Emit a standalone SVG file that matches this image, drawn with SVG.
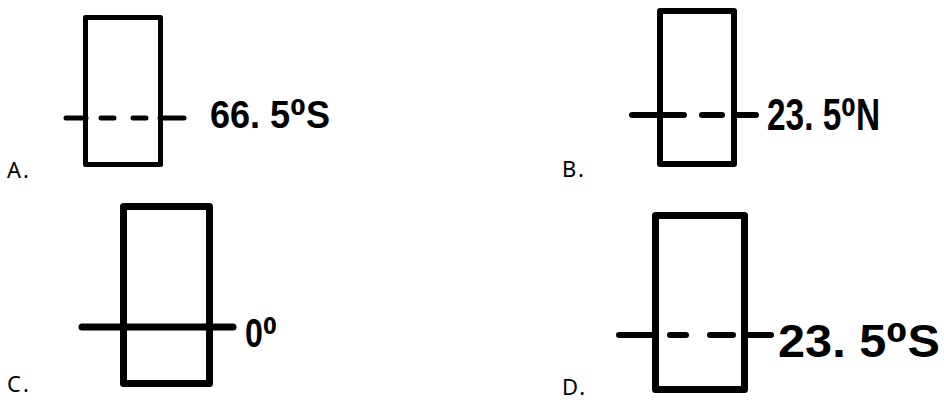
<svg xmlns="http://www.w3.org/2000/svg" width="944" height="403" viewBox="0 0 944 403">
<style>
.box{fill:none;stroke:#000;stroke-linejoin:round}
.ln{stroke:#000;stroke-linecap:round;fill:none}
.lbl{font-family:"Noto Sans","Liberation Sans",sans-serif;font-size:22px;fill:#000;letter-spacing:2px}
.num{font-family:"Liberation Sans Narrow","Liberation Sans","DejaVu Sans",sans-serif;font-weight:bold;fill:#000}
</style>
<rect width="944" height="403" fill="#fff"/>
<g id="optionA">
<rect class="box" x="85.5" y="17.5" width="75" height="147" stroke-width="5"/>
<g class="ln" stroke-width="5">
<line x1="66" y1="118" x2="86" y2="118"/>
<line x1="101" y1="118" x2="114" y2="118"/>
<line x1="133" y1="118" x2="146" y2="118"/>
<line x1="160" y1="118" x2="184" y2="118"/>
</g>
<text class="num" x="210" y="128" font-size="39" textLength="120" lengthAdjust="spacingAndGlyphs">66. 5⁰S</text>
<text class="lbl" x="7" y="178">A.</text>
</g>
<g id="optionB">
<rect class="box" x="660" y="11" width="74" height="153" stroke-width="6"/>
<g class="ln" stroke-width="6">
<line x1="632" y1="115" x2="660" y2="115"/>
<line x1="661" y1="115" x2="684" y2="115"/>
<line x1="702" y1="115" x2="722" y2="115"/>
<line x1="734" y1="115" x2="756" y2="115"/>
</g>
<text class="num" x="767" y="130" font-size="44" textLength="113" lengthAdjust="spacingAndGlyphs">23. 5⁰N</text>
<text class="lbl" x="562" y="177">B.</text>
</g>
<g id="optionC">
<rect class="box" x="123.5" y="206.5" width="86" height="177" stroke-width="7"/>
<line class="ln" x1="82" y1="327" x2="233" y2="327" stroke-width="7" stroke-linecap="butt"/>
<text class="num" x="245" y="347" font-size="40" textLength="32" lengthAdjust="spacingAndGlyphs">0⁰</text>
<text class="lbl" x="7" y="392">C.</text>
</g>
<g id="optionD">
<rect class="box" x="655.5" y="215.5" width="89" height="174" stroke-width="7"/>
<g class="ln" stroke-width="6">
<line x1="619" y1="335" x2="655" y2="335"/>
<line x1="670" y1="335" x2="686" y2="335"/>
<line x1="710" y1="335" x2="733" y2="335"/>
<line x1="745" y1="335" x2="771" y2="335"/>
</g>
<text class="num" x="778" y="357" font-size="47" textLength="162" lengthAdjust="spacingAndGlyphs">23. 5⁰S</text>
<text class="lbl" x="562" y="395">D.</text>
</g>
</svg>
